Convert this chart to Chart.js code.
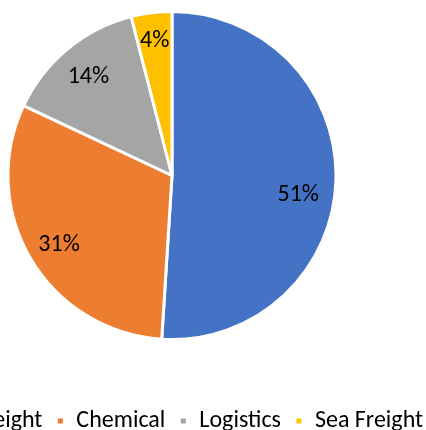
<!DOCTYPE html>
<html><head><meta charset="utf-8">
<script src="https://cdn.jsdelivr.net/npm/chart.js@4/dist/chart.umd.min.js"></script>
<style>
html,body{margin:0;padding:0;background:#fff;overflow:hidden;width:426px;height:430px;}
#wrap{position:absolute;left:-155px;top:0;width:700px;height:443px;}
</style></head>
<body><div id="wrap"><canvas id="c" width="700" height="443"></canvas></div>
<script>
const categories = ["Air Freight", "Chemical", "Logistics", "Sea Freight"];
const shares = [51, 31, 14, 4];
const colors = ["#4472C4", "#ED7D31", "#A5A5A5", "#FFC000"];
const FONT = "Calibri, Carlito, 'Open Sans', 'Liberation Sans', sans-serif";

const labelPlugin = {
  id: "pctLabels",
  afterDatasetsDraw(chart) {
    const ctx = chart.ctx;
    const meta = chart.getDatasetMeta(0);
    const frac = [0.77, 0.8, 0.8, 0.84];
    const dy = [16, 3, 3, 2];
    ctx.save();
    ctx.font = "24px " + FONT;
    ctx.fillStyle = "#000";
    ctx.textAlign = "center";
    ctx.textBaseline = "middle";
    meta.data.forEach((arc, i) => {
      const p = arc.getProps(["x","y","startAngle","endAngle","outerRadius"], true);
      const mid = (p.startAngle + p.endAngle) / 2;
      const r = p.outerRadius * frac[i];
      ctx.fillText(shares[i] + "%", p.x + Math.cos(mid) * r, p.y + Math.sin(mid) * r + dy[i]);
    });
    ctx.restore();
  }
};

new Chart(document.getElementById("c"), {
  type: "pie",
  data: {
    labels: categories,
    datasets: [{ data: shares, backgroundColor: colors, borderColor: "#fff", borderWidth: 3 }]
  },
  options: {
    responsive: false,
    animation: false,
    layout: { padding: { top: 10, left: 0, right: 46, bottom: 0 } },
    plugins: {
      tooltip: { enabled: false },
      legend: {
        position: "bottom",
        title: { display: true, text: "", font: { size: 12 }, padding: 19.8 },
        labels: {
          font: { size: 24, family: FONT },
          color: "#000",
          boxWidth: 8, boxHeight: 8,
          padding: 14
        }
      }
    }
  },
  plugins: [labelPlugin]
});
</script>
</body></html>
